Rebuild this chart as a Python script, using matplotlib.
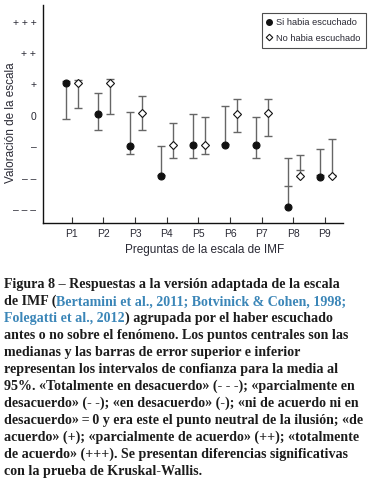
import matplotlib
matplotlib.use("Agg")
import matplotlib.pyplot as plt
from matplotlib.lines import Line2D

# ---------------- data ----------------
questions = ["P1", "P2", "P3", "P4", "P5", "P6", "P7", "P8", "P9"]
ytick_values = [-3, -2, -1, 0, 1, 2, 3]
ytick_labels = ["– – –", "– –", "–", "0", "+", "+ +", "+ + +"]

# "Si habia escuchado" (filled circles)
si_median = [1.05, 0.05, -0.97, -1.96, -0.95, -0.94, -0.96, -2.95, -1.97]
si_low    = [-0.12, -0.45, -1.25, -1.92, -1.37, -0.92, -1.37, -2.28, -1.92]
si_high   = [1.10, 0.72, 0.13, -0.97, 0.05, 0.32, -0.05, -1.38, -1.08]

# "No habia escuchado" (open diamonds)
no_median = [1.05, 1.05, 0.07, -0.95, -0.95, 0.06, 0.07, -1.96, -1.96]
no_low    = [0.24, 0.05, -0.46, -1.37, -1.25, -0.53, -0.67, -1.76, -1.92]
no_high   = [1.15, 1.17, 0.63, -0.23, -0.05, 0.54, 0.54, -1.27, -0.76]

legend_labels = ["Si habia escuchado", "No habia escuchado"]
xlabel = "Preguntas de la escala de IMF"
ylabel = "Valoración de la escala"

BLUE = "#3b86b8"
caption_lines = [
    [("Figura 8 – Respuestas a la versión adaptada de la escala", None)],
    [("de IMF (", None), ("Bertamini et al., 2011; Botvinick & Cohen, 1998;", BLUE)],
    [("Folegatti et al., 2012", BLUE), (") agrupada por el haber escuchado", None)],
    [("antes o no sobre el fenómeno. Los puntos centrales son las", None)],
    [("medianas y las barras de error superior e inferior", None)],
    [("representan los intervalos de confianza para la media al", None)],
    [("95%. «Totalmente en desacuerdo» (- - -); «parcialmente en", None)],
    [("desacuerdo» (- -); «en desacuerdo» (-); «ni de acuerdo ni en", None)],
    [("desacuerdo»\u2009=\u20090 y era este el punto neutral de la ilusión; «de", None)],
    [("acuerdo» (+); «parcialmente de acuerdo» (++); «totalmente", None)],
    [("de acuerdo» (+++). Se presentan diferencias significativas", None)],
    [("con la prueba de Kruskal-Wallis.", None)],
]

# ---------------- figure ----------------
W, H = 371, 483
fig = plt.figure(figsize=(W / 100, H / 100), dpi=100)
plt.rcParams["font.family"] = ["Liberation Sans", "DejaVu Sans"]

ax = fig.add_axes([43.3 / W, 1 - 223.3 / H, (343 - 43.3) / W, (223.3 - 5) / H])
ax.set_xlim(0.103, 9.57)
ax.set_ylim(-3.47, 3.56)

xs = list(range(1, len(questions) + 1))
off_si, off_no = -0.17, 0.21
ECOL = "#666666"
TXT = "#2a2a35"


def draw_group(offset, med, lo, hi, marker, face, ms):
    x = [xi + offset for xi in xs]
    bottoms = [min(m, l) for m, l in zip(med, lo)]
    tops = [max(m, h) for m, h in zip(med, hi)]
    ax.vlines(x, bottoms, tops, color=ECOL, lw=1.0, zorder=2)
    ax.plot(x, lo, ls="none", marker="_", ms=5.5, mew=1.0, color=ECOL, zorder=2)
    ax.plot(x, hi, ls="none", marker="_", ms=5.5, mew=1.0, color=ECOL, zorder=2)
    ax.plot(x, med, ls="none", marker=marker, ms=ms, mfc=face, mec="#111111",
            mew=0.8, zorder=3)


draw_group(off_si, si_median, si_low, si_high, "o", "#111111", 5.0)
draw_group(off_no, no_median, no_low, no_high, "D", "white", 3.9)

for s in ["top", "right"]:
    ax.spines[s].set_visible(False)
for s in ["left", "bottom"]:
    ax.spines[s].set_linewidth(1.0)
    ax.spines[s].set_color("#111111")

ax.set_xticks(xs)
ax.set_xticklabels(questions, fontsize=7.5, color=TXT)
ax.tick_params(axis="x", direction="in", length=4, width=0.8, pad=4, color="#333333")
ax.set_yticks(ytick_values)
ax.set_yticklabels(ytick_labels, fontsize=7.5, color=TXT)
ax.tick_params(axis="y", length=0, pad=5)

fig.text(205 / W, 1 - 250 / H, xlabel, ha="center", va="center", fontsize=8.5, color=TXT)
fig.text(11 / W, 1 - 123 / H, ylabel, ha="center", va="center", rotation=90,
         fontsize=8.5, color=TXT)

handles = [
    Line2D([], [], ls="none", marker="o", ms=4, mfc="#111111", mec="#111111"),
    Line2D([], [], ls="none", marker="D", ms=3.3, mfc="white", mec="#111111", mew=0.8),
]
leg = fig.legend(handles, legend_labels, loc="upper left",
                 bbox_to_anchor=(262 / W, 1 - 13 / H), fontsize=6.7,
                 frameon=True, fancybox=False, handlelength=0.5, handletextpad=0.5,
                 borderpad=0.55, labelspacing=0.7, borderaxespad=0)
leg.get_frame().set_edgecolor("#222222")
leg.get_frame().set_linewidth(0.8)
for t in leg.get_texts():
    t.set_color(TXT)

# ---------------- caption ----------------
renderer = fig.canvas.get_renderer()
x0 = 4
y0 = 284.7
dy = 17.0
for i, segs in enumerate(caption_lines):
    x = x0
    y = y0 + i * dy
    for text, col in segs:
        t = fig.text(x / W, 1 - y / H, text, ha="left", va="center",
                     fontsize=10.1, fontweight="bold",
                     family=["Liberation Serif", "DejaVu Serif"],
                     color=col if col else "#1c1c1c")
        bb = t.get_window_extent(renderer=renderer)
        x += bb.width

fig.savefig("out.png", dpi=100)
